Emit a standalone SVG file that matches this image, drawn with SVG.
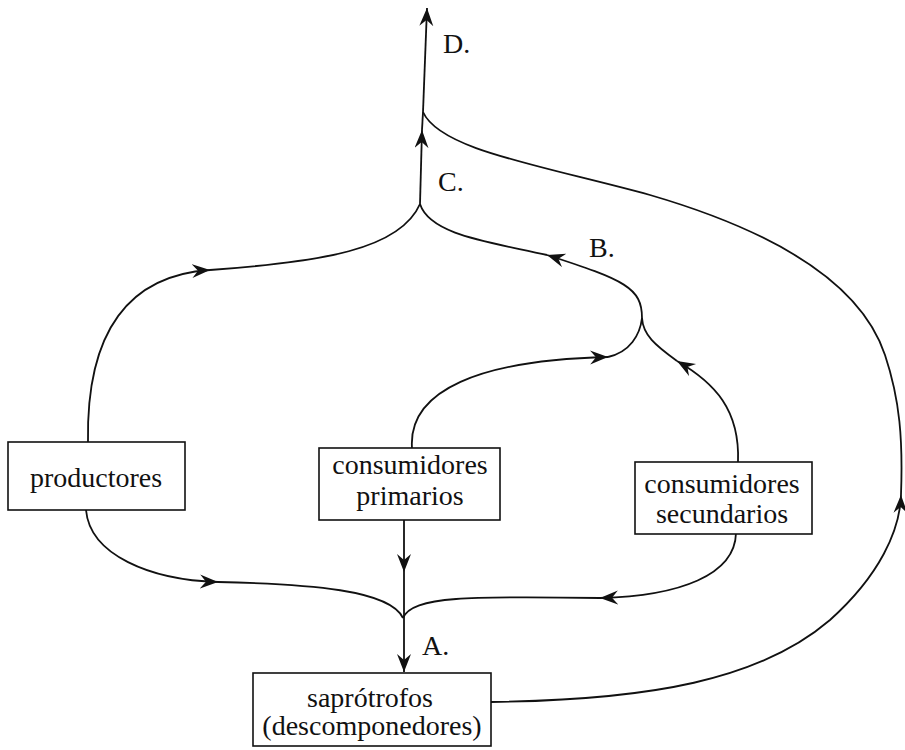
<svg xmlns="http://www.w3.org/2000/svg" width="905" height="750" viewBox="0 0 905 750">
<defs>
<style>
.box{fill:#fff;stroke:#111;stroke-width:1.6}
.ln{fill:none;stroke:#111;stroke-width:1.8}
.arr{marker-end:url(#ah)}
text{font-family:"Liberation Serif","Times New Roman",serif;font-size:28px;fill:#111}
.c{text-anchor:middle}
</style>
<marker id="ah" markerUnits="userSpaceOnUse" markerWidth="20" markerHeight="16" refX="18" refY="7" orient="auto" viewBox="0 0 20 16">
<path d="M0,0 L18,7 L0,14 L6,7 z" fill="#111"/>
</marker>
</defs>
<rect width="905" height="750" fill="#fff"/>
<g id="connectors">
<path class="ln arr" d="M86,510 C 90,555 150,580 218,582"/>
<path class="ln" d="M218,582 C 310,584 390,590 403,618"/>
<path class="ln arr" d="M736,533 C 735,575 680,596 600,598"/>
<path class="ln" d="M600,598 C 470,596 412,596 403,618"/>
<path class="ln arr" d="M404,520 L404,572"/>
<path class="ln" d="M404,572 L404,618"/>
<path class="ln arr" d="M404,618 L404,672"/>
<path class="ln arr" d="M491,702 C 650,700 760,680 830,620 C 880,575 900,530 901,495"/>
<path class="ln" d="M901,495 C 903,440 900,400 885,355 C 860,280 770,230 650,195 C 540,165 440,150 423,112"/>
<path class="ln arr" d="M420,204 L422,130"/>
<path class="ln" d="M422,130 L423,112"/>
<path class="ln arr" d="M423,112 L427,8"/>
<path class="ln arr" d="M88,442 C 86,330 130,275 210,270"/>
<path class="ln" d="M210,270 C 320,262 400,250 420,204"/>
<path class="ln arr" d="M642,318 C 642,288 625,280 547,255"/>
<path class="ln" d="M547,255 C 490,242 430,235 420,204"/>
<path class="ln arr" d="M412,448 C 408,390 480,360 608,357"/>
<path class="ln" d="M608,357 C 630,352 640,335 642,318"/>
<path class="ln arr" d="M738,462 C 740,410 715,383 677,361"/>
<path class="ln" d="M677,361 C 655,345 643,335 642,318"/>
</g>
<g id="productores">
<rect class="box" x="8" y="442" width="177" height="68"/>
<text class="c" x="96" y="487">productores</text>
</g>
<g id="consumidores-primarios">
<rect class="box" x="319" y="448" width="181" height="72"/>
<text class="c" x="410" y="474">consumidores</text>
<text class="c" x="410" y="505">primarios</text>
</g>
<g id="consumidores-secundarios">
<rect class="box" x="635" y="462" width="177" height="72"/>
<text class="c" x="722" y="493">consumidores</text>
<text class="c" x="722" y="523">secundarios</text>
</g>
<g id="saprotrofos">
<rect class="box" x="253" y="673" width="238" height="73"/>
<text class="c" x="370" y="707">saprótrofos</text>
<text class="c" x="372" y="735">(descomponedores)</text>
</g>
<g id="labels">
<text x="443" y="53">D.</text>
<text x="438" y="191">C.</text>
<text x="589" y="257">B.</text>
<text x="422" y="655">A.</text>
</g>
</svg>
